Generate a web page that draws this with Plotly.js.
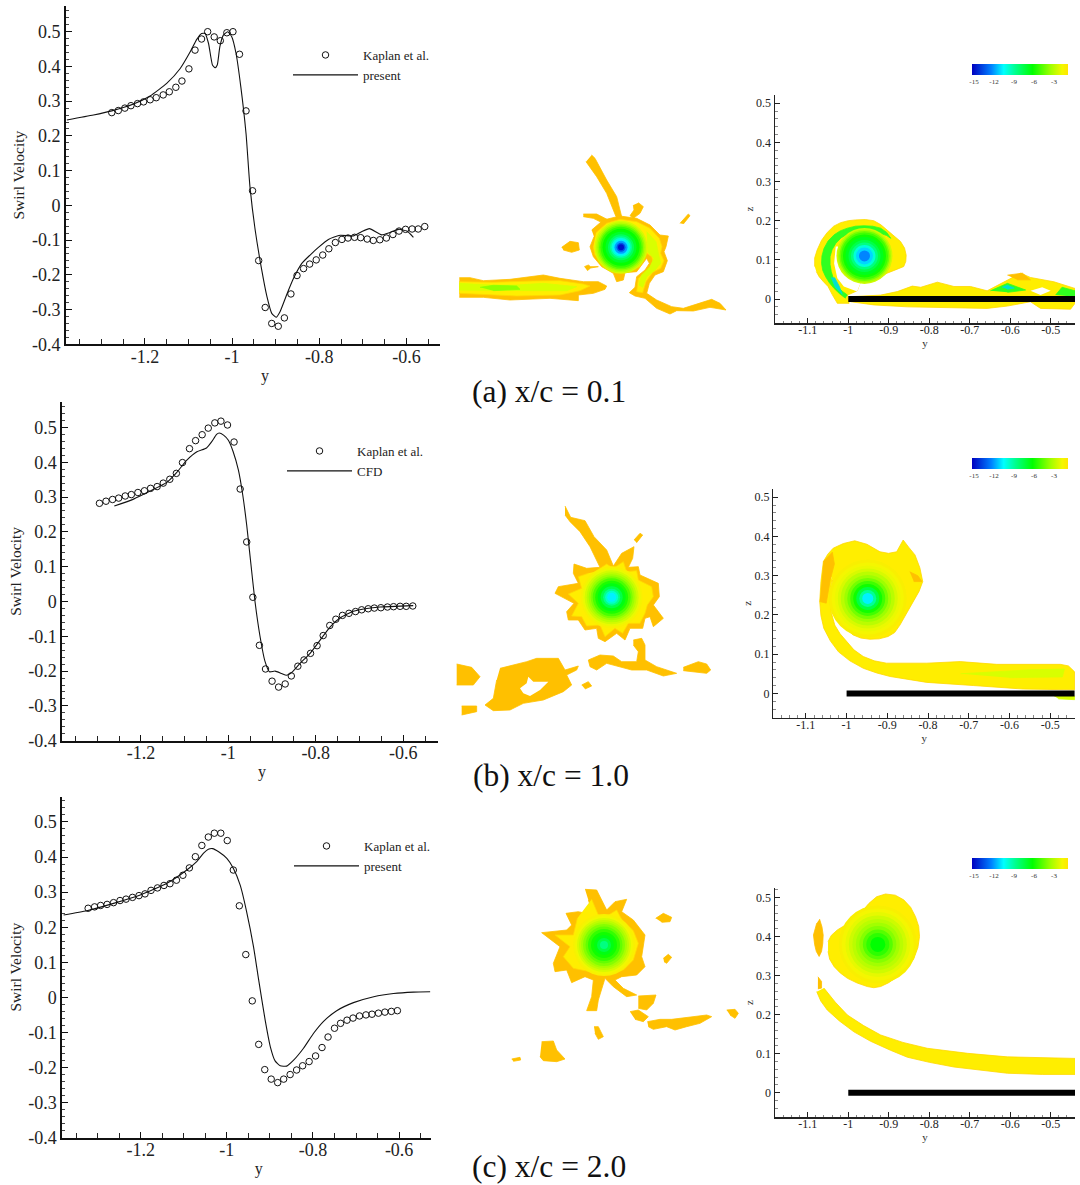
<!DOCTYPE html>
<html><head><meta charset="utf-8">
<script src="https://cdn.plot.ly/plotly-3.0.1.min.js"></script>
<style>html,body{margin:0;padding:0;background:#fff}#c{width:1080px;height:1185px}</style>
</head><body><div id="c"></div>
<script>
// ---------- swirl velocity profiles ----------
const aExpY=[-1.276,-1.261,-1.246,-1.232,-1.217,-1.203,-1.188,-1.174,-1.158,-1.144,-1.129,-1.115,-1.099,-1.085,-1.070,-1.056,-1.041,-1.027,-1.012,-0.998,-0.983,-0.968,-0.953,-0.939,-0.924,-0.909,-0.894,-0.880,-0.865,-0.851,-0.836,-0.822,-0.807,-0.792,-0.778,-0.763,-0.748,-0.734,-0.719,-0.705,-0.690,-0.676,-0.661,-0.646,-0.631,-0.617,-0.602,-0.587,-0.573,-0.558];
const aExpV=[0.267,0.273,0.280,0.287,0.293,0.298,0.304,0.310,0.318,0.327,0.340,0.358,0.393,0.447,0.479,0.500,0.485,0.474,0.497,0.500,0.435,0.272,0.042,-0.159,-0.294,-0.340,-0.348,-0.324,-0.255,-0.202,-0.182,-0.169,-0.157,-0.143,-0.125,-0.107,-0.098,-0.094,-0.092,-0.093,-0.097,-0.101,-0.099,-0.094,-0.084,-0.074,-0.069,-0.068,-0.068,-0.061];
const aCfdY=[-1.379,-1.318,-1.276,-1.226,-1.188,-1.150,-1.119,-1.096,-1.081,-1.070,-1.062,-1.054,-1.045,-1.039,-1.034,-1.028,-1.020,-1.010,-1.001,-0.991,-0.980,-0.968,-0.959,-0.947,-0.932,-0.920,-0.909,-0.899,-0.890,-0.875,-0.859,-0.840,-0.821,-0.802,-0.779,-0.752,-0.722,-0.703,-0.685,-0.657,-0.638,-0.618,-0.599,-0.584];
const aCfdV=[0.246,0.260,0.272,0.292,0.315,0.351,0.394,0.442,0.478,0.495,0.495,0.466,0.404,0.396,0.404,0.457,0.490,0.500,0.486,0.438,0.342,0.207,0.054,-0.071,-0.186,-0.263,-0.311,-0.322,-0.306,-0.258,-0.210,-0.167,-0.143,-0.121,-0.098,-0.086,-0.088,-0.076,-0.067,-0.085,-0.078,-0.069,-0.074,-0.092];

const bExpY=[-1.295,-1.280,-1.265,-1.251,-1.236,-1.222,-1.207,-1.192,-1.178,-1.163,-1.149,-1.134,-1.119,-1.105,-1.089,-1.075,-1.060,-1.046,-1.031,-1.017,-1.002,-0.987,-0.973,-0.958,-0.944,-0.929,-0.915,-0.900,-0.885,-0.870,-0.856,-0.841,-0.827,-0.812,-0.797,-0.783,-0.768,-0.754,-0.739,-0.724,-0.709,-0.695,-0.680,-0.666,-0.651,-0.636,-0.622,-0.607,-0.593,-0.578];
const bExpV=[0.282,0.288,0.293,0.297,0.303,0.307,0.313,0.318,0.325,0.330,0.340,0.351,0.368,0.399,0.439,0.462,0.479,0.498,0.513,0.518,0.507,0.458,0.323,0.171,0.012,-0.126,-0.194,-0.229,-0.246,-0.237,-0.214,-0.186,-0.168,-0.149,-0.127,-0.098,-0.069,-0.051,-0.040,-0.034,-0.029,-0.024,-0.021,-0.019,-0.018,-0.016,-0.015,-0.014,-0.014,-0.013];
const bCfdY=[-1.261,-1.217,-1.179,-1.141,-1.118,-1.095,-1.072,-1.050,-1.038,-1.027,-1.021,-1.011,-1.000,-0.989,-0.977,-0.967,-0.958,-0.949,-0.939,-0.928,-0.916,-0.906,-0.893,-0.878,-0.867,-0.855,-0.836,-0.813,-0.790,-0.767,-0.744,-0.714,-0.683,-0.653,-0.577];
const bCfdV=[0.274,0.294,0.317,0.342,0.371,0.406,0.430,0.441,0.459,0.480,0.484,0.478,0.463,0.430,0.377,0.305,0.219,0.114,-0.001,-0.097,-0.173,-0.202,-0.200,-0.207,-0.212,-0.204,-0.178,-0.149,-0.111,-0.073,-0.047,-0.028,-0.020,-0.016,-0.012];

const cExpY=[-1.322,-1.307,-1.293,-1.278,-1.263,-1.248,-1.234,-1.219,-1.204,-1.190,-1.176,-1.161,-1.146,-1.132,-1.117,-1.102,-1.087,-1.073,-1.058,-1.043,-1.029,-1.014,-0.999,-0.985,-0.971,-0.956,-0.941,-0.926,-0.912,-0.897,-0.882,-0.868,-0.853,-0.838,-0.824,-0.809,-0.794,-0.779,-0.765,-0.750,-0.736,-0.721,-0.707,-0.692,-0.677,-0.663,-0.648,-0.633,-0.618,-0.604];
const cExpV=[0.254,0.258,0.262,0.265,0.270,0.276,0.280,0.285,0.290,0.295,0.305,0.312,0.319,0.324,0.334,0.348,0.369,0.401,0.433,0.457,0.468,0.468,0.447,0.363,0.261,0.122,-0.010,-0.134,-0.206,-0.233,-0.243,-0.233,-0.220,-0.207,-0.195,-0.183,-0.167,-0.143,-0.113,-0.088,-0.074,-0.065,-0.059,-0.053,-0.050,-0.048,-0.045,-0.042,-0.040,-0.038];
const cCfdY=[-1.379,-1.325,-1.263,-1.201,-1.139,-1.093,-1.070,-1.054,-1.043,-1.033,-1.019,-1.000,-0.985,-0.969,-0.954,-0.938,-0.926,-0.911,-0.899,-0.888,-0.876,-0.861,-0.845,-0.822,-0.799,-0.776,-0.745,-0.706,-0.659,-0.613,-0.567,-0.528];
const cCfdV=[0.235,0.247,0.268,0.292,0.325,0.363,0.387,0.411,0.422,0.424,0.415,0.396,0.368,0.320,0.244,0.144,0.049,-0.065,-0.141,-0.181,-0.195,-0.196,-0.179,-0.145,-0.103,-0.069,-0.038,-0.015,0.002,0.011,0.015,0.016];

const profileXTicks=[-1.2,-1,-0.8,-0.6];
const profileXLabels=['-1.2','-1','-0.8','-0.6'];
const profileYTicks=[-0.4,-0.3,-0.2,-0.1,0,0.1,0.2,0.3,0.4,0.5];
const profileYLabels=['-0.4','-0.3','-0.2','-0.1','0','0.1','0.2','0.3','0.4','0.5'];
const planeYTicks=[-1.1,-1,-0.9,-0.8,-0.7,-0.6,-0.5];
const planeYLabels=['-1.1','-1','-0.9','-0.8','-0.7','-0.6','-0.5'];
const planeZTicks=[0,0.1,0.2,0.3,0.4,0.5];
const planeZLabels=['0','0.1','0.2','0.3','0.4','0.5'];
const barTicks=[-15,-12,-9,-6,-3];
const barLabels=['-15','-12','-9','-6','-3'];
const wingY=[-1,-0.44];
const wingZ=[0,0];

// ---------- vorticity contour outlines, middle column (unscaled plane units) ----------
const midA_wake=[[28,683],[60,683],[100,692],[180,688],[280,675],[330,685],[400,695],[445,695],[470,708],[465,718],[430,730],[385,735],[385,752],[300,745],[180,750],[100,742],[28,742]];
const midA_wakeY=[[28,695],[70,695],[130,697],[250,693],[330,692],[400,702],[420,708],[390,722],[330,735],[200,738],[100,733],[28,730]];
const midA_wakeL=[[28,700],[60,702],[120,705],[200,705],[280,700],[380,710],[350,722],[250,722],[130,722],[28,720]];
const midA_wakeG=[[90,712],[130,706],[200,708],[210,718],[130,722]];
const midA_body=[[425,540],[460,510],[510,498],[560,505],[600,525],[630,555],[655,558],[648,590],[642,605],[652,632],[640,665],[615,675],[598,700],[590,730],[620,750],[665,770],[700,775],[760,755],[785,748],[810,760],[828,780],[780,772],[730,783],[680,782],[660,792],[620,775],[585,745],[555,738],[538,728],[555,712],[560,680],[585,660],[598,640],[590,625],[575,645],[560,665],[525,668],[520,690],[500,695],[490,670],[455,650],[430,620],[420,590],[432,560]];
const midA_bodyY=[[438,548],[470,520],[510,508],[560,515],[600,535],[628,565],[636,590],[632,610],[642,632],[632,655],[608,667],[588,695],[578,728],[560,725],[565,685],[590,665],[610,640],[605,620],[590,610],[570,650],[525,660],[490,660],[458,640],[435,615],[430,590]];
const midA_bodyL=[[590,545],[618,575],[625,610],[632,640],[615,660],[590,680],[578,712],[567,705],[575,675],[600,650],[612,625],[592,605]];
const midA_arm=[[425,315],[435,325],[470,390],[500,440],[515,500],[498,500],[470,430],[440,380],[408,335]];
const midA_knob=[[565,458],[580,470],[570,490],[550,505],[540,497],[552,480],[550,465]];
const midA_finger=[[400,492],[440,492],[475,510],[460,520],[430,505],[400,500]];
const midA_lobe=[[335,592],[360,574],[385,578],[388,600],[365,607],[340,600]];
const midA_sliver=[[690,520],[715,492],[720,497],[700,522]];
const midA_spot=[[403,650],[415,645],[422,650],[445,650],[422,654],[412,662]];
const midB_star=[[345,198],[362,232],[405,242],[432,290],[470,330],[490,378],[515,340],[552,320],[548,355],[535,382],[565,380],[570,405],[625,430],[628,470],[610,495],[640,535],[610,560],[600,530],[585,535],[578,565],[540,565],[525,600],[500,580],[465,605],[445,595],[440,565],[405,570],[385,540],[355,540],[350,515],[372,490],[345,475],[315,460],[325,440],[385,430],[370,400],[372,372],[410,385],[450,382],[420,320],[390,275],[360,245],[345,225]];
const midB_starY=[[435,395],[470,372],[490,385],[520,365],[530,395],[560,392],[565,420],[605,440],[610,470],[592,495],[585,520],[570,550],[535,550],[518,580],[495,565],[465,590],[450,555],[410,558],[395,530],[365,528],[385,490],[355,462],[395,445],[385,410],[415,400]];
const midB_tip=[[552,300],[570,280],[578,285],[560,308]];
const midB_hook=[[550,600],[575,595],[585,615],[585,660],[620,680],[680,700],[640,708],[590,690],[545,690],[510,680],[470,670],[440,690],[420,680],[415,660],[450,645],[490,648],[515,665],[560,665],[565,635],[550,615]];
const midB_right=[[700,682],[745,665],[770,672],[782,690],[770,700],[730,695],[700,692]];
const midB_big=[[150,685],[230,665],[260,655],[325,655],[345,690],[385,678],[380,690],[350,705],[365,735],[340,755],[280,780],[220,790],[180,810],[130,812],[105,795],[130,775],[140,720]];
const midB_hole=[[210,745],[230,730],[235,710],[250,725],[295,725],[270,750],[240,768],[220,760]];
const midB_left=[[20,672],[65,682],[90,710],[70,735],[20,735]];
const midB_small=[[35,798],[80,798],[80,815],[35,825]];
const midB_dot=[[395,735],[415,725],[425,738],[405,747]];
const midC_star=[[285,88],[320,90],[350,150],[375,125],[410,118],[395,155],[430,180],[465,225],[455,290],[465,320],[440,345],[395,350],[375,360],[400,385],[440,405],[410,410],[370,380],[345,355],[325,420],[320,452],[290,452],[305,410],[310,360],[285,350],[245,368],[230,330],[195,335],[190,310],[210,260],[155,218],[230,210],[245,195],[228,160],[265,155],[310,165],[295,120]];
const midC_starY=[[305,118],[325,165],[345,172],[380,150],[395,178],[430,212],[445,250],[430,300],[400,330],[350,340],[300,335],[250,325],[220,290],[240,260],[195,225],[250,225],[262,175]];
const midC_b1=[[497,175],[520,160],[545,172],[540,185],[515,187]];
const midC_b2=[[520,295],[535,283],[545,292],[530,310],[522,305]];
const midC_b3=[[445,408],[498,405],[490,430],[470,450],[445,445]];
const midC_b4=[[420,455],[445,450],[475,470],[460,485],[435,478]];
const midC_band=[[472,485],[510,478],[545,478],[600,472],[650,465],[665,470],[630,490],[590,500],[555,510],[530,500],[490,508],[475,500]];
const midC_far=[[710,450],[735,448],[745,460],[735,475],[720,465]];
const midC_b5=[[312,500],[325,500],[340,530],[325,538],[315,520]];
const midC_foot=[[155,545],[190,543],[200,570],[225,597],[200,605],[160,602],[150,590]];
const midC_b6=[[65,597],[90,592],[92,600],[70,604]];

// ---------- vorticity contour outlines, right column (y, z) ----------
const rightA_outer=[[-1.083,.083],[-1.083,.105],[-1.077,.125],[-1.066,.150],[-1.052,.170],[-1.036,.186],[-1.019,.195],[-1.0,.200],[-.982,.202],[-.958,.203],[-.937,.200],[-.920,.190],[-.904,.176],[-.888,.163],[-.871,.147],[-.861,.130],[-.857,.112],[-.858,.096],[-.863,.083],[-.882,.075],[-.904,.066],[-.922,.055],[-.941,.044],[-.956,.042],[-.970,.043],[-.978,.021],[-1.002,.010],[-.998,-.011],[-1.027,-.011],[-1.040,.012],[-1.050,.032],[-1.062,.045],[-1.072,.057],[-1.079,.070]];
const rightA_gap=[[-1.031,.134],[-1.035,.091],[-1.027,.053],[-1.011,.032],[-.978,.019],[-.970,.040],[-.990,.049],[-1.015,.075],[-1.023,.104],[-1.025,.134]];
const rightA_arm=[[-1.007,.002],[-1.022,.014],[-1.035,.027],[-1.047,.042],[-1.056,.057],[-1.063,.073],[-1.066,.091],[-1.065,.110],[-1.060,.129],[-1.050,.148],[-1.035,.164],[-1.020,.174],[-1.002,.181],[-.982,.186],[-.961,.187],[-.940,.186],[-.920,.181],[-.905,.170],[-.895,.155],[-.905,.162],[-.916,.166],[-.938,.171],[-.961,.172],[-.982,.171],[-1.002,.166],[-1.018,.156],[-1.031,.142],[-1.040,.126],[-1.045,.108],[-1.045,.088],[-1.042,.070],[-1.036,.050],[-1.027,.032],[-1.015,.020],[-1.002,.010]];
const rightA_armCore=[[-1.042,.055],[-1.032,.030],[-1.015,.012],[-1.022,.032],[-1.034,.055]];
const rightA_plate=[[-.994,.006],[-.920,.010],[-.879,.019],[-.842,.033],[-.821,.030],[-.780,.043],[-.739,.032],[-.698,.032],[-.657,.021],[-.616,.044],[-.574,.066],[-.550,.055],[-.492,.044],[-.44,.027],[-.44,-.011],[-.451,-.026],[-.525,-.024],[-.550,-.007],[-.607,-.018],[-.657,-.024],[-.756,-.022],[-.854,-.020],[-.937,-.015],[-.994,-.007]];
const rightA_edge=[[-.607,.061],[-.570,.066],[-.550,.049],[-.583,.049]];
const rightA_hole=[[-.550,.021],[-.521,.030],[-.500,.021],[-.525,.010]];
const rightA_green1=[[-.649,.021],[-.607,.040],[-.562,.023],[-.607,.017]];
const rightA_cyan1=[[-.620,.030],[-.607,.035],[-.590,.028],[-.607,.025]];
const rightA_green2=[[-.488,.010],[-.472,.030],[-.44,.021],[-.44,.006]];
const rightB_blob=[[-1.057,.336],[-1.046,.355],[-1.033,.370],[-1.008,.382],[-.980,.389],[-.950,.380],[-.918,.361],[-.897,.357],[-.877,.361],[-.868,.376],[-.861,.391],[-.847,.372],[-.832,.353],[-.820,.320],[-.813,.285],[-.822,.260],[-.836,.234],[-.852,.204],[-.869,.174],[-.882,.155],[-.898,.145],[-.920,.139],[-.943,.138],[-.965,.141],[-.984,.149],[-1.002,.165],[-1.016,.183],[-1.025,.208],[-1.029,.234],[-1.032,.262],[-1.035,.290]];
const rightB_arm=[[-1.057,.336],[-1.063,.285],[-1.066,.234],[-1.063,.198],[-1.056,.166],[-1.040,.134],[-1.020,.106],[-.992,.083],[-.959,.064],[-.926,.052],[-.893,.043],[-.850,.035],[-.803,.028],[-.689,.020],[-.566,.011],[-.44,.009],[-.44,.055],[-.455,.070],[-.475,.074],[-.631,.074],[-.721,.081],[-.803,.077],[-.902,.077],[-.932,.083],[-.959,.094],[-.982,.111],[-1,.132],[-1.016,.152],[-1.029,.174],[-1.037,.204],[-1.041,.234],[-1.040,.262],[-1.035,.290]];
const rightB_col=[[-1.057,.336],[-1.035,.360],[-1.030,.330],[-1.040,.290],[-1.050,.230],[-1.066,.234]];
const rightB_patch=[[-.845,.310],[-.825,.300],[-.815,.285],[-.835,.285]];
const rightB_limeArm=[[-.720,.050],[-.550,.060],[-.465,.062],[-.470,.042],[-.600,.040]];
const rightB_under=[[-.490,-.007],[-.44,-.007],[-.44,-.016],[-.480,-.014]];
const rightC_blob=[[-1.050,.387],[-1.042,.403],[-1.027,.417],[-1.008,.430],[-.986,.443],[-.968,.462],[-.949,.485],[-.930,.502],[-.908,.509],[-.884,.506],[-.863,.494],[-.846,.475],[-.834,.451],[-.826,.426],[-.824,.400],[-.828,.372],[-.838,.344],[-.856,.319],[-.879,.297],[-.900,.282],[-.920,.272],[-.937,.269],[-.953,.272],[-.978,.281],[-1.002,.293],[-1.020,.307],[-1.035,.323],[-1.046,.342],[-1.050,.362]];
const rightC_lens=[[-1.071,.445],[-1.065,.425],[-1.062,.404],[-1.063,.382],[-1.066,.362],[-1.072,.349],[-1.079,.362],[-1.083,.379],[-1.086,.404],[-1.082,.420],[-1.078,.434]];
const rightC_tip=[[-1.075,.297],[-1.066,.285],[-1.066,.268],[-1.075,.266]];
const rightC_arm=[[-1.060,.268],[-1.032,.232],[-1.002,.199],[-.962,.172],[-.920,.148],[-.865,.129],[-.805,.114],[-.705,.101],[-.607,.092],[-.52,.089],[-.439,.088],[-.439,.047],[-.52,.047],[-.607,.050],[-.68,.059],[-.739,.066],[-.80,.078],[-.854,.091],[-.896,.109],[-.945,.132],[-.986,.156],[-1.022,.184],[-1.052,.212],[-1.068,.235],[-1.078,.259]];

// ---------- vortex cores: centre, contour level, drawn diameter ----------
const coreMidA_at=[513,592];
const coreMidA_level=[-2.4,-3,-3.8,-4.6,-5.4,-6.2,-7,-8,-9,-10,-10.8,-12,-13.5,-15];
const coreMidA_size=[53,50,47,44,41,37,31,26,22,19,16,13,9,6];
const coreMidB_at=[485,472];
const coreMidB_level=[-1.5,-2,-2.5,-3,-3.6,-4.2,-5,-5.8,-6.6,-7.6,-8.8,-9.8,-10.8];
const coreMidB_size=[62,58,54,50,46,42,38,33,28,22,17,13,9];
const coreMidC_at=[342,255];
const coreMidC_level=[-1.5,-1.9,-2.4,-2.9,-3.4,-4,-4.6,-5.4,-6,-6.6,-7.5,-8.6];
const coreMidC_size=[62,58,54,50,46,42,37,32,26,20,14,8];
const coreRightA_at=[-0.960,0.110];
const coreRightA_level=[-2.6,-3.4,-4.4,-5.2,-6,-6.8,-7.6,-8.6,-10,-11.2,-12.4];
const coreRightA_size=[56,53,50,47,43,38,32,27,22,17,11];
const coreRightB_at=[-0.948,0.242];
const coreRightB_level=[-1.4,-1.7,-2,-2.4,-3,-3.6,-4.3,-5.2,-6,-7.5,-9,-10.8];
const coreRightB_size=[78,72,66,60,54,47,41,35,29,23,17,11];
const coreRightC_at=[-0.927,0.380];
const coreRightC_level=[-1.4,-1.7,-2.1,-2.6,-3,-3.5,-4,-4.8,-5.5,-6.3];
const coreRightC_size=[78,72,65,58,51,44,37,30,23,15];

// ---------- styling and page layout ----------
const W=1080,H=1185,SERIF='"Liberation Serif","Times New Roman",serif';
const fx=p=>p/W, fy=p=>1-p/H;
const PAL={orange:'#ffc000',yellow:'#ffee00',lime:'#d8ff00',lgreen:'#90ff00',green:'#30ff20',cyan:'#00e0d0',white:'#ffffff'};
const SCALE=[[0,'#0000c0'],[0.2,'#0080ff'],[0.33,'#00ffff'],[0.45,'#00ff90'],[0.63,'#00ff00'],[0.82,'#a0ff00'],[0.94,'#f4f800'],[1,'#ffe600']];

const regions=[
 [4,'orange',midA_wake],[4,'yellow',midA_wakeY],[4,'lime',midA_wakeL],[4,'lgreen',midA_wakeG],
 [4,'orange',midA_body],[4,'orange',midA_arm],[4,'orange',midA_knob],[4,'orange',midA_finger],[4,'orange',midA_lobe],[4,'orange',midA_sliver],[4,'orange',midA_spot],
 [4,'yellow',midA_bodyY],[4,'lime',midA_bodyL],
 [5,'orange',midB_star],[5,'orange',midB_tip],[5,'orange',midB_hook],[5,'orange',midB_right],[5,'orange',midB_big],[5,'white',midB_hole],[5,'orange',midB_left],[5,'orange',midB_small],[5,'orange',midB_dot],[5,'yellow',midB_starY],
 [6,'orange',midC_star],[6,'orange',midC_b1],[6,'orange',midC_b2],[6,'orange',midC_b3],[6,'orange',midC_b4],[6,'orange',midC_band],[6,'orange',midC_far],[6,'orange',midC_b5],[6,'orange',midC_foot],[6,'orange',midC_b6],[6,'yellow',midC_starY],
 [7,'yellow',rightA_outer],[7,'white',rightA_gap],[7,'green',rightA_arm],[7,'cyan',rightA_armCore],[7,'yellow',rightA_plate],[7,'orange',rightA_edge],[7,'white',rightA_hole],[7,'green',rightA_green1],[7,'cyan',rightA_cyan1],[7,'green',rightA_green2],
 [8,'yellow',rightB_blob],[8,'yellow',rightB_arm],[8,'orange',rightB_col],[8,'orange',rightB_patch],[8,'lime',rightB_limeArm],[8,'lime',rightB_under],
 [9,'yellow',rightC_blob],[9,'orange',rightC_lens],[9,'orange',rightC_tip],[9,'yellow',rightC_arm]
];
const axRef=n=>({xaxis:'x'+n,yaxis:'y'+n});
const traces=[];
function profile(n,ex,ev,cx,cv,label,leg){
  traces.push({type:'scatter',mode:'markers',x:ex,y:ev,name:'Kaplan et al.',legend:leg,...axRef(n),
    marker:{symbol:'circle-open',size:6.5,color:'#111',line:{width:1,color:'#111'}},cliponaxis:false});
  traces.push({type:'scatter',mode:'lines',x:cx,y:cv,name:label,legend:leg,...axRef(n),
    line:{color:'#111',width:1.1,shape:'spline',smoothing:0.5}});
}
profile(1,aExpY,aExpV,aCfdY,aCfdV,'present','legend');
profile(2,bExpY,bExpV,bCfdY,bCfdV,'CFD','legend2');
profile(3,cExpY,cExpV,cCfdY,cCfdV,'present','legend3');
regions.forEach(([n,c,p])=>traces.push({type:'scatter',mode:'lines',x:p.map(a=>a[0]),y:p.map(a=>a[1]),...axRef(n),showlegend:false,hoverinfo:'skip',
  fill:'toself',fillcolor:PAL[c],line:{color:c==='yellow'?'#ffd800':PAL[c],width:c==='white'?0:0.8}}));
function core(n,at,lev,size,barTop){
  const m={color:lev,size:size,cmin:-15.35,cmax:-0.95,colorscale:SCALE,opacity:1,line:{width:0},showscale:barTop!==undefined};
  if(barTop!==undefined) m.colorbar={orientation:'h',thickness:11,thicknessmode:'pixels',len:96,lenmode:'pixels',x:fx(971.7),xanchor:'left',y:fy(barTop),yanchor:'top',xpad:0,ypad:0,outlinewidth:0,tickmode:'array',tickvals:barTicks,ticktext:barLabels,ticks:'',tickfont:{family:SERIF,size:7,color:'#333'}};
  traces.push({type:'scatter',mode:'markers',x:lev.map(()=>at[0]),y:lev.map(()=>at[1]),...axRef(n),showlegend:false,hoverinfo:'skip',marker:m});
}
core(4,coreMidA_at,coreMidA_level,coreMidA_size);
core(5,coreMidB_at,coreMidB_level,coreMidB_size);
core(6,coreMidC_at,coreMidC_level,coreMidC_size);
core(7,coreRightA_at,coreRightA_level,coreRightA_size,64);
core(8,coreRightB_at,coreRightB_level,coreRightB_size,458.3);
core(9,coreRightC_at,coreRightC_level,coreRightC_size,857.7);
[7,8,9].forEach(n=>traces.push({type:'scatter',mode:'lines',x:wingY,y:wingZ,...axRef(n),showlegend:false,hoverinfo:'skip',line:{color:'#000',width:6}}));

const layout={width:W,height:H,margin:{l:0,r:0,t:0,b:0},autosize:false,paper_bgcolor:'#fff',plot_bgcolor:'rgba(0,0,0,0)',hovermode:false,
  font:{family:SERIF,color:'#222'},annotations:[],showlegend:true};
function setAxes(n,box,xr,yr,xo,yo){
  layout['xaxis'+n]=Object.assign({domain:[fx(box[0]),fx(box[1])],range:xr,anchor:'y'+n,showgrid:false,zeroline:false,fixedrange:true},xo);
  layout['yaxis'+n]=Object.assign({domain:[fy(box[3]),fy(box[2])],range:yr,anchor:'x'+n,showgrid:false,zeroline:false,fixedrange:true},yo);
}
function profileAxes(n,box,xr,yr){
  setAxes(n,box,xr,yr,{
    showline:true,linecolor:'#111',linewidth:2,ticks:'inside',ticklen:6,tickwidth:1,tickcolor:'#111',tickmode:'array',tickvals:profileXTicks,ticktext:profileXLabels,ticklabelstandoff:-5,
    tickfont:{family:SERIF,size:18,color:'#222'},minor:{ticks:'inside',ticklen:5,tickwidth:1,tickcolor:'#222',tickmode:'linear',tick0:-1,dtick:0.05},
    title:{text:'&nbsp;&nbsp;&nbsp;&nbsp;&nbsp;&nbsp;y',font:{family:SERIF,size:16,color:'#222'},standoff:0}
  },{
    showline:true,linecolor:'#111',linewidth:2,ticks:'inside',ticklen:6,tickwidth:1,tickcolor:'#111',tickmode:'array',tickvals:profileYTicks,ticktext:profileYLabels,
    tickfont:{family:SERIF,size:18,color:'#222'},minor:{ticks:'inside',ticklen:3,tickwidth:1,tickcolor:'#444',tickmode:'linear',tick0:0,dtick:0.02},
    title:{text:'Swirl Velocity',font:{family:SERIF,size:15.5,color:'#222'},standoff:3}
  });
}
profileAxes(1,[66,440,6,344.3],[-1.381,-0.523],[-0.4,0.574]);
profileAxes(2,[62.3,437.7,402,740.7],[-1.380,-0.521],[-0.4,0.573]);
profileAxes(3,[62.3,431,796.7,1137.7],[-1.382,-0.526],[-0.4,0.572]);
function planeAxes(n,box,xr,yr){
  const base={showline:true,linecolor:'#222',linewidth:1.5,ticks:'inside',ticklen:5,tickwidth:1,tickcolor:'#222',tickmode:'array',tickfont:{family:SERIF,size:12,color:'#222'}};
  setAxes(n,box,xr,yr,{...base,tickvals:planeYTicks,ticktext:planeYLabels,ticklabelstandoff:-5,minor:{ticks:'inside',ticklen:2.5,tickwidth:1,tickcolor:'#888',tickmode:'linear',tick0:-1,dtick:0.02},title:{text:'y',font:{family:SERIF,size:11,color:'#333'},standoff:0}},
    {...base,tickvals:planeZTicks,ticktext:planeZLabels,minor:{ticks:'inside',ticklen:2.5,tickwidth:1,tickcolor:'#888',tickmode:'linear',tick0:0,dtick:0.02},title:{text:'z',font:{family:SERIF,size:11,color:'#333'},standoff:0}});
}
const hidden={visible:false};
setAxes(4,[450,750,50,350],[0,900],[900,0],hidden,hidden);
setAxes(5,[450,750,440,740],[0,900],[900,0],hidden,hidden);
setAxes(6,[490,760,860,1070],[0,810],[630,0],hidden,hidden);
planeAxes(7,[775,1075,95,323.3],[-1.181,-0.44],[-0.062,0.521]);
planeAxes(8,[773.3,1075,489,717.7],[-1.180,-0.439],[-0.062,0.521]);
planeAxes(9,[775,1075,888.3,1117],[-1.181,-0.44],[-0.062,0.5236]);

const legendBase={yanchor:'top',xanchor:'left',bgcolor:'rgba(0,0,0,0)',borderwidth:0,itemwidth:65,font:{family:SERIF,size:13,color:'#222'},itemclick:false,itemdoubleclick:false};
layout.legend={...legendBase,x:fx(288),y:fy(40)};
layout.legend2={...legendBase,x:fx(282),y:fy(436)};
layout.legend3={...legendBase,x:fx(289),y:fy(831)};

[['(a) x/c = 0.1',470,391],['(b) x/c = 1.0',471,775],['(c) x/c = 2.0',470,1166]].forEach(([t,x,y])=>
  layout.annotations.push({text:t,xref:'paper',yref:'paper',x:fx(x),y:fy(y),xanchor:'left',yanchor:'middle',showarrow:false,font:{family:SERIF,size:31.5,color:'#111'}}));

Plotly.newPlot('c',traces,layout,{displayModeBar:false,staticPlot:true});
</script></body></html>
